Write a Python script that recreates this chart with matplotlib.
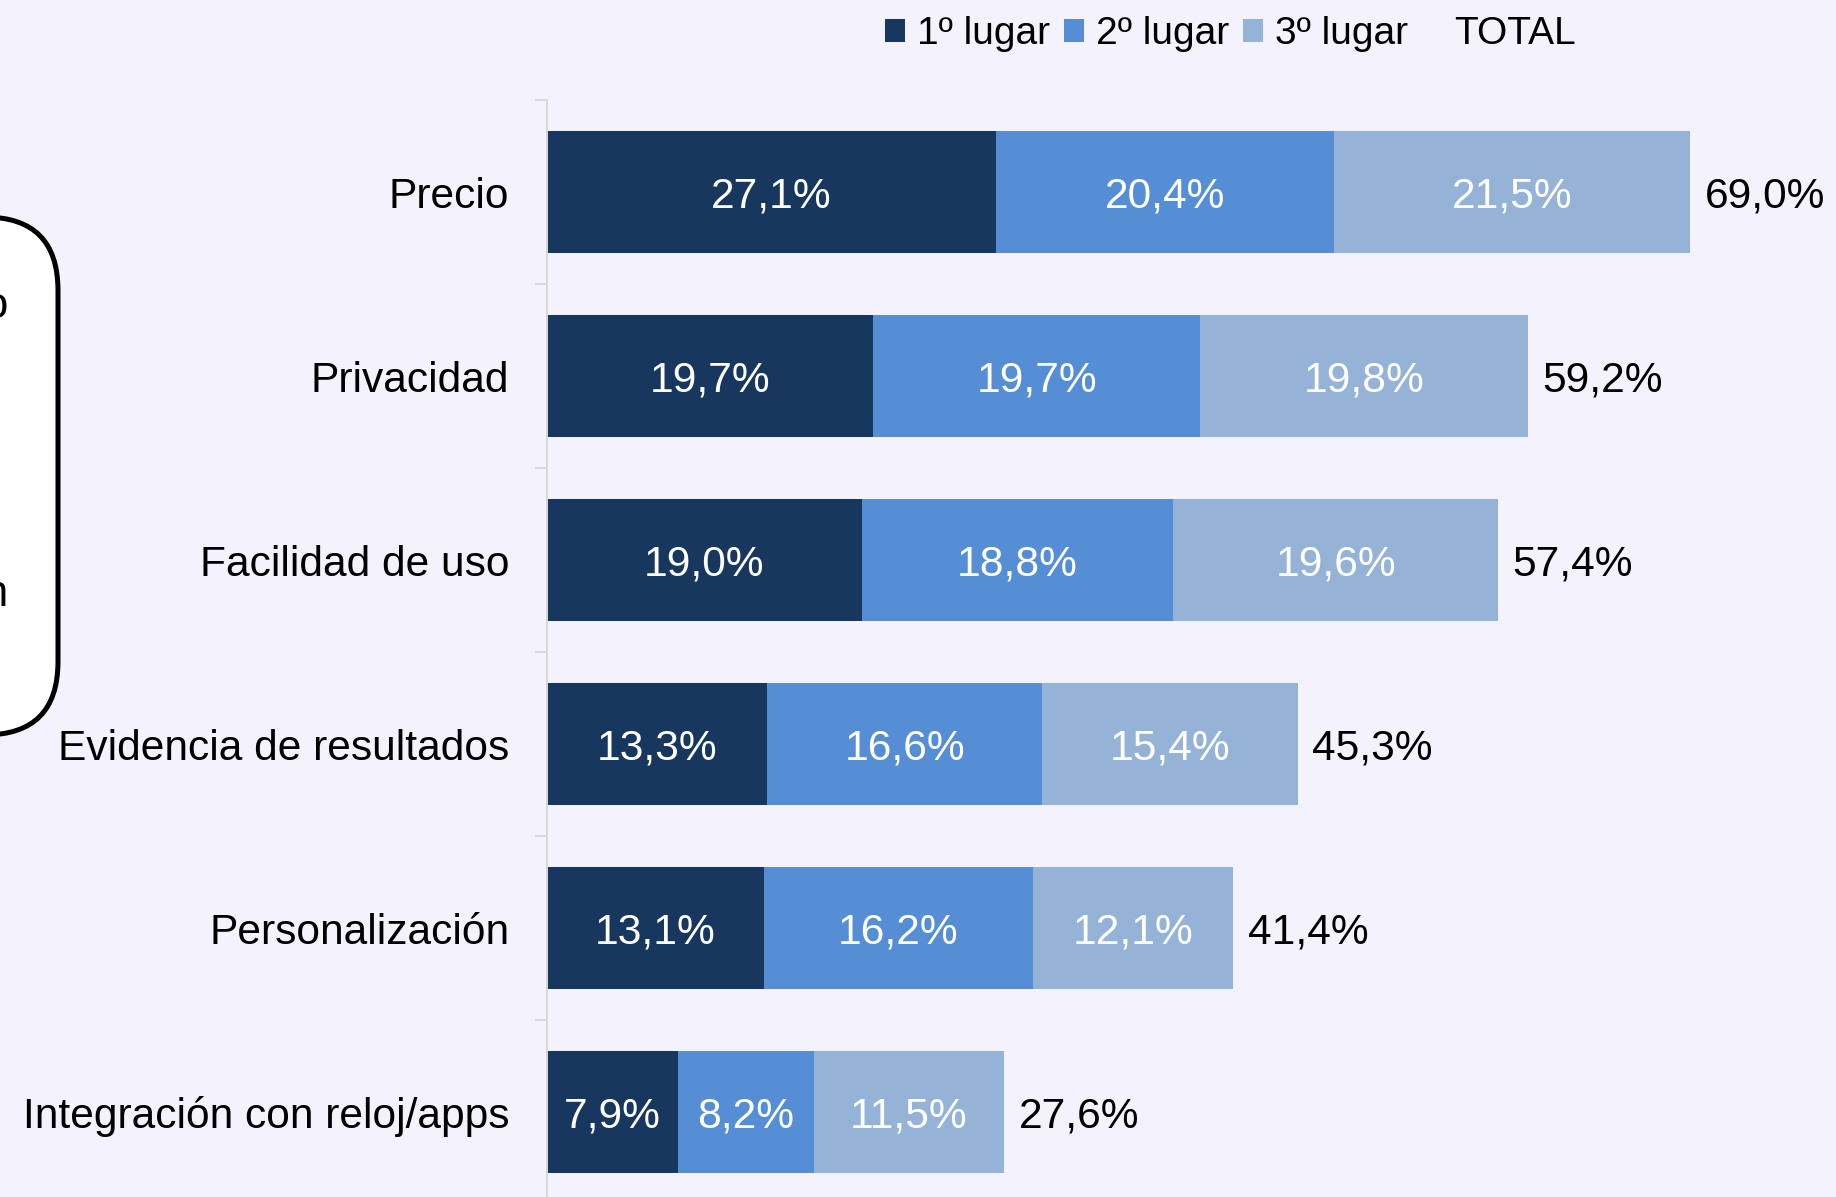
import matplotlib
matplotlib.use("Agg")
import matplotlib.pyplot as plt
from matplotlib.patches import FancyBboxPatch, Patch
from matplotlib.ticker import FixedLocator

plt.rcParams['font.family'] = ['Liberation Sans', 'DejaVu Sans']

# Attributes ranked by respondents, share choosing each as 1st/2nd/3rd
categories = ["Precio", "Privacidad", "Facilidad de uso",
              "Evidencia de resultados", "Personalización",
              "Integración con reloj/apps"]
primero = [27.1, 19.7, 19.0, 13.3, 13.1, 7.9]
segundo = [20.4, 19.7, 18.8, 16.6, 16.2, 8.2]
tercero = [21.5, 19.8, 19.6, 15.4, 12.1, 11.5]
total = [69.0, 59.2, 57.4, 45.3, 41.4, 27.6]
series_names = ["1º lugar", "2º lugar", "3º lugar"]
colors = ["#17375E", "#558ED5", "#95B3D7"]
bg = "#F4F3FD"

FS = 30.6
W, H = 1836, 1197
fig = plt.figure(figsize=(W / 100, H / 100), dpi=100, facecolor=bg)

ax_left = 547 / W
ax_top = 1 - 100 / H
ax_bottom = -7 / H
ax = fig.add_axes([ax_left, ax_bottom, 1 - ax_left, ax_top - ax_bottom])
ax.set_facecolor(bg)

def fmt(v):
    return f"{v:.1f}".replace(".", ",") + "%"

# baseline shift that puts digit caps centred on the bar
cap_shift = -0.358 * FS

y = list(range(len(categories)))
left = [0.0] * len(categories)
for vals, name, col in zip([primero, segundo, tercero], series_names, colors):
    ax.barh(y, vals, left=left, height=0.665, color=col, label=name)
    for yi, l, v in zip(y, left, vals):
        ax.annotate(fmt(v), xy=(l + v / 2, yi), xytext=(0, cap_shift),
                    textcoords="offset points", ha="center", va="baseline",
                    color="white", fontsize=FS)
    left = [l + v for l, v in zip(left, vals)]

for yi, end, t in zip(y, left, total):
    ax.annotate(fmt(t), xy=(end, yi), xytext=(10.5, cap_shift),
                textcoords="offset points", ha="left", va="baseline",
                fontsize=FS, color="black")

ax.set_xlim(0, (W - 547) / 16.57)
ax.set_ylim(len(categories) - 0.5, -0.5)

ax.set_yticks(y)
ax.set_yticklabels(categories, fontsize=FS)
ax.tick_params(axis="y", which="major", length=0, pad=27)
ax.yaxis.set_minor_locator(FixedLocator([i - 0.5 for i in range(len(categories) + 1)]))
ax.tick_params(axis="y", which="minor", length=8.6, width=1.4, color="#D9D9D9")
ax.set_xticks([])
for s in ["top", "right", "bottom"]:
    ax.spines[s].set_visible(False)
ax.spines["left"].set_color("#D9D9D9")
ax.spines["left"].set_linewidth(1.4)

# Legend across the top, with a marker-less TOTAL entry
LFS = 28
em = LFS * 100 / 72
handles = [Patch(facecolor=c, edgecolor="none") for c in colors]
handles.append(Patch(facecolor="none", edgecolor="none"))
labels = series_names + ["TOTAL"]
fig.legend(handles, labels, loc="center left", ncol=4, frameon=False,
           bbox_to_anchor=(885 / W, 1 - 34 / H), fontsize=LFS,
           handlelength=20 / em, handleheight=21 / em, handletextpad=12 / em,
           columnspacing=14 / em, borderpad=0, borderaxespad=0)

# Rounded note box cut off at the left edge
box = FancyBboxPatch((-120 / W, 1 - 735 / H), (58 + 120) / W, (735 - 217) / H,
                     boxstyle="round,pad=0,rounding_size=0.04",
                     transform=fig.transFigure, facecolor="white",
                     edgecolor="black", linewidth=3.6, mutation_aspect=W / H)
fig.add_artist(box)
fig.text(8 / W, 1 - 307 / H, "atributo", ha="right", va="center", fontsize=32)
fig.text(8 / W, 1 - 595 / H, "elección", ha="right", va="center", fontsize=32)

fig.savefig("out.png", dpi=100, facecolor=bg)
